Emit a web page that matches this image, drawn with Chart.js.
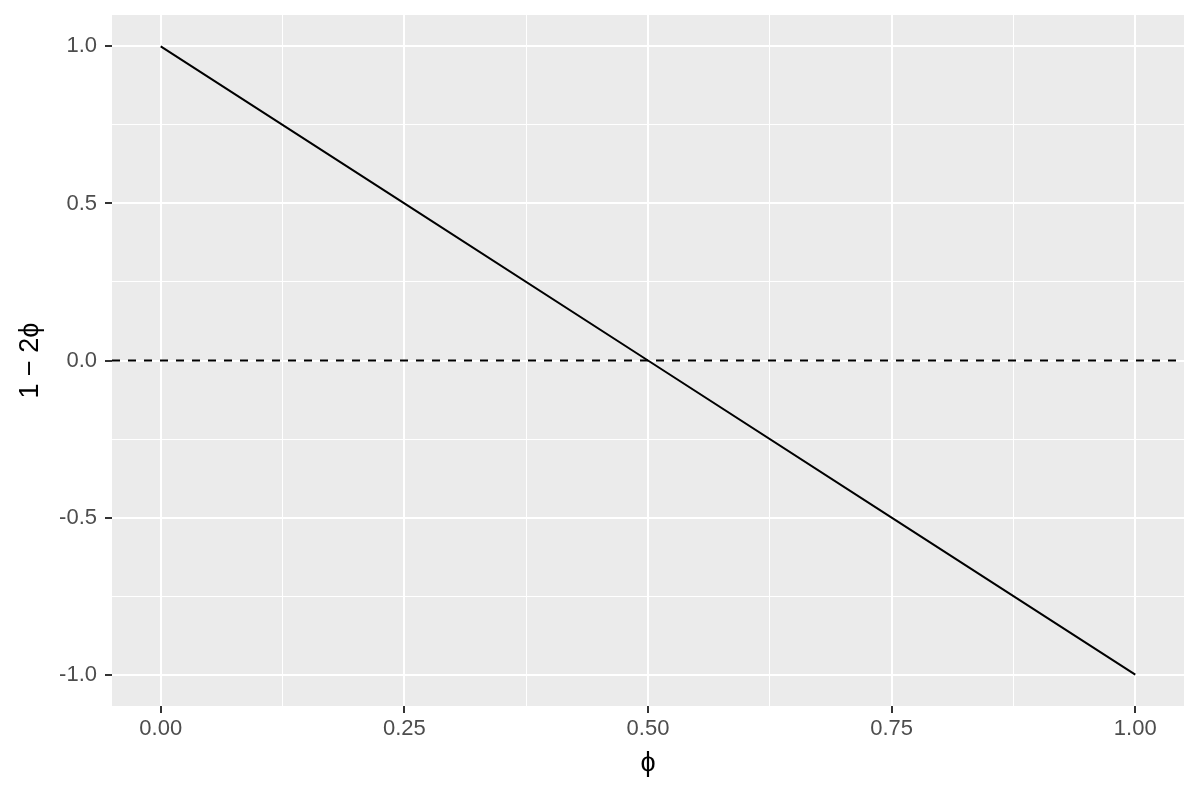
<!DOCTYPE html>
<html>
<head>
<meta charset="utf-8">
<script src="https://cdn.jsdelivr.net/npm/chart.js@4/dist/chart.umd.min.js"></script>
<style>
  html, body { margin: 0; padding: 0; background: #ffffff; }
  #wrap { width: 1200px; height: 800px; }
</style>
</head>
<body>
<div id="wrap"><canvas id="c" width="1200" height="800"></canvas></div>
<script>
// Data
const phiValues = [0, 0.25, 0.5, 0.75, 1];
const lineValues = [1, 0.5, 0, -0.5, -1];
const refLineX = [-0.05, 1.05];
const refLineY = [0, 0];
const xMajorTicks = [0, 0.25, 0.5, 0.75, 1];
const xMinorTicks = [0.125, 0.375, 0.625, 0.875];
const yMajorTicks = [-1, -0.5, 0, 0.5, 1];
const yMinorTicks = [-0.75, -0.25, 0.25, 0.75];
const xTickLabels = ['0.00', '0.25', '0.50', '0.75', '1.00'];
const yTickLabels = ['-1.0', '-0.5', '0.0', '0.5', '1.0'];
const xTitle = 'ϕ';
const yTitle = '1 − 2ϕ';

const FONT = "'Liberation Sans', Arial, 'DejaVu Sans', sans-serif";

const panelBg = {
  id: 'panelBg',
  beforeDraw(chart) {
    const { ctx, chartArea: a } = chart;
    ctx.save();
    ctx.fillStyle = '#EBEBEB';
    ctx.fillRect(a.left, a.top, a.right - a.left, a.bottom - a.top);
    ctx.restore();
  }
};

function isMajor(v, majors) {
  return majors.some(m => Math.abs(m - v) < 1e-9);
}

new Chart(document.getElementById('c'), {
  type: 'scatter',
  data: {
    datasets: [
      {
        data: refLineX.map((x, i) => ({ x, y: refLineY[i] })),
        showLine: true,
        borderColor: '#000000',
        borderWidth: 2,
        borderDash: [8, 8],
        pointRadius: 0,
        pointHoverRadius: 0
      },
      {
        data: phiValues.map((x, i) => ({ x, y: lineValues[i] })),
        showLine: true,
        borderColor: '#000000',
        borderWidth: 2,
        pointRadius: 0,
        pointHoverRadius: 0
      }
    ]
  },
  options: {
    responsive: false,
    animation: false,
    events: [],
    layout: { padding: { left: 0, top: 15, right: 16, bottom: 0 } },
    plugins: { legend: { display: false }, tooltip: { enabled: false } },
    scales: {
      x: {
        type: 'linear',
        min: -0.05,
        max: 1.05,
        border: { display: false },
        afterBuildTicks(scale) {
          scale.ticks = [...xMajorTicks, ...xMinorTicks].sort((a, b) => a - b).map(v => ({ value: v }));
        },
        afterFit(scale) {
          scale.height = 94;
          scale.paddingLeft = 0; scale.paddingRight = 0;
          scale.paddingTop = 0; scale.paddingBottom = 0;
        },
        grid: {
          color: '#FFFFFF',
          lineWidth: ctx => isMajor(ctx.tick.value, xMajorTicks) ? 2 : 1,
          drawTicks: true,
          tickLength: 7,
          tickWidth: ctx => isMajor(ctx.tick.value, xMajorTicks) ? 2 : 0,
          tickColor: ctx => isMajor(ctx.tick.value, xMajorTicks) ? '#333333' : 'rgba(0,0,0,0)'
        },
        ticks: {
          autoSkip: false,
          maxRotation: 0,
          padding: 3,
          color: '#4D4D4D',
          font: { family: FONT, size: 22 },
          callback: v => {
            const i = xMajorTicks.findIndex(m => Math.abs(m - v) < 1e-9);
            return i >= 0 ? xTickLabels[i] : '';
          }
        },
        title: {
          display: true,
          text: xTitle,
          color: '#000000',
          font: { family: FONT, size: 27 },
          padding: { top: 0, bottom: 20 }
        }
      },
      y: {
        type: 'linear',
        min: -1.1,
        max: 1.1,
        border: { display: false },
        afterBuildTicks(scale) {
          scale.ticks = [...yMajorTicks, ...yMinorTicks].sort((a, b) => a - b).map(v => ({ value: v }));
        },
        afterFit(scale) {
          scale.width = 112;
          scale.paddingLeft = 0; scale.paddingRight = 0;
          scale.paddingTop = 0; scale.paddingBottom = 0;
        },
        grid: {
          color: '#FFFFFF',
          lineWidth: ctx => isMajor(ctx.tick.value, yMajorTicks) ? 2 : 1,
          drawTicks: true,
          tickLength: 7,
          tickWidth: ctx => isMajor(ctx.tick.value, yMajorTicks) ? 2 : 0,
          tickColor: ctx => isMajor(ctx.tick.value, yMajorTicks) ? '#333333' : 'rgba(0,0,0,0)'
        },
        ticks: {
          autoSkip: false,
          padding: 8,
          color: '#4D4D4D',
          font: { family: FONT, size: 22 },
          callback: v => {
            const i = yMajorTicks.findIndex(m => Math.abs(m - v) < 1e-9);
            return i >= 0 ? yTickLabels[i] : '';
          }
        },
        title: {
          display: true,
          text: yTitle,
          color: '#000000',
          font: { family: FONT, size: 27 },
          padding: { top: 14, bottom: 0 }
        }
      }
    }
  },
  plugins: [panelBg]
});
</script>
</body>
</html>
